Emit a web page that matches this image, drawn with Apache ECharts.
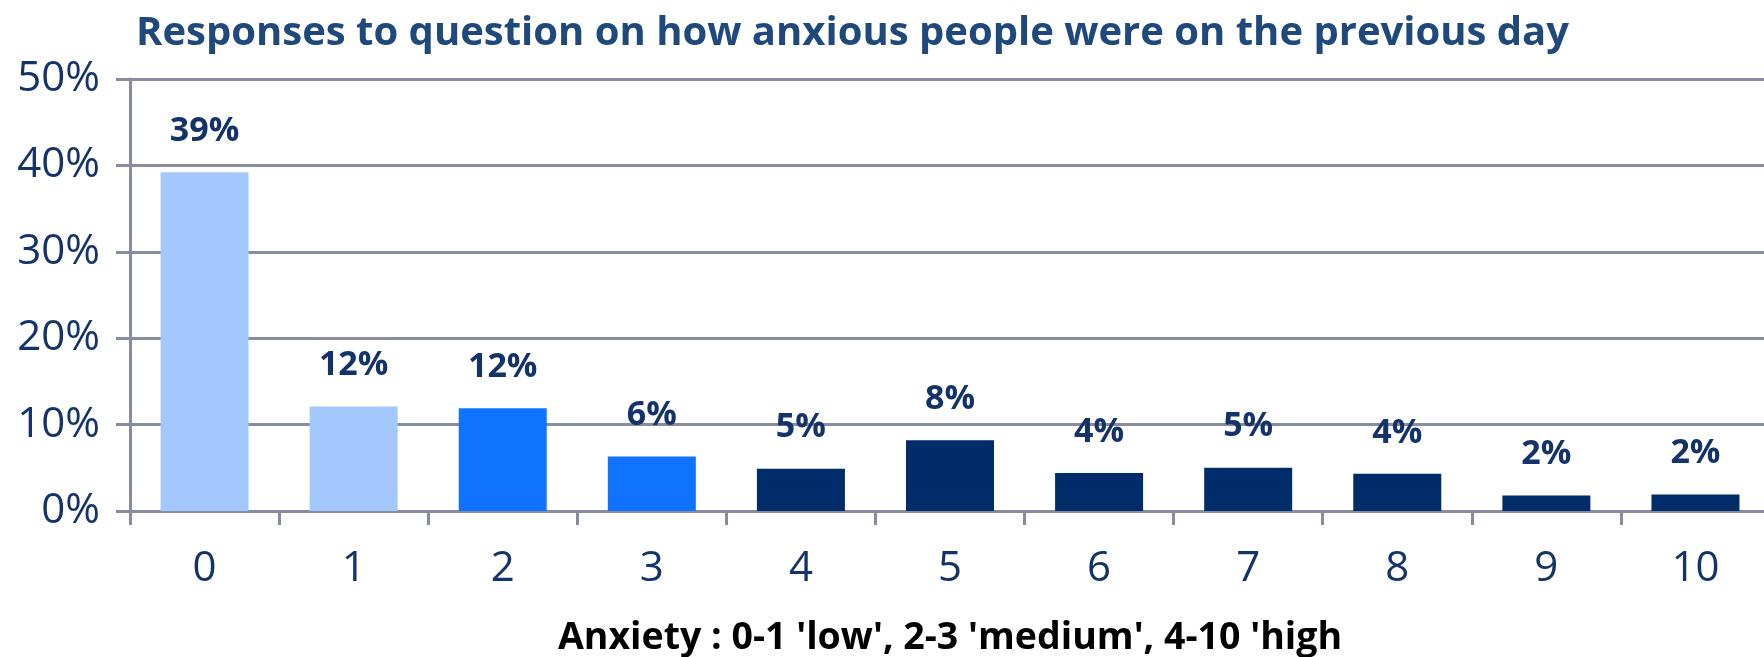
<!DOCTYPE html>
<html>
<head>
<meta charset="utf-8">
<title>Anxiety responses</title>
<script src="https://cdn.jsdelivr.net/npm/echarts@6/dist/echarts.min.js"></script>
<style>
  html, body { margin: 0; padding: 0; background: #fff; }
  #chart { width: 1764px; height: 657px; }
</style>
</head>
<body>
<div id="chart"></div>
<script>
// 焦虑评分 0-10
var categories = ['0', '1', '2', '3', '4', '5', '6', '7', '8', '9', '10'];
var shares = [39.2, 12.1, 11.9, 6.3, 4.9, 8.2, 4.4, 5.0, 4.3, 1.8, 1.9];
var groups = ['low', 'low', 'medium', 'medium', 'high', 'high', 'high', 'high', 'high', 'high', 'high'];
var yTicks = [0, 10, 20, 30, 40, 50];

var groupColor = { low: '#a3c8fd', medium: '#0f73ff', high: '#002c69' };
var navy = '#14336a';
var gridGray = '#878ca0';

var chart = echarts.init(document.getElementById('chart'));

var option = {
  animation: false,
  title: {
    text: 'Responses to question on how anxious people were on the previous day',
    left: 131,
    top: 9,
    textStyle: { fontFamily: 'Open Sans', fontWeight: 'bold', fontSize: 40, color: '#1f497d' }
  },
  grid: { left: 130, top: 79, bottom: 146, width: 1640, outerBoundsMode: 'none' },
  xAxis: {
    type: 'category',
    data: categories,
    name: "Anxiety : 0-1 'low', 2-3 'medium', 4-10 'high",
    nameLocation: 'middle',
    nameGap: 108,
    nameTextStyle: { fontFamily: 'Open Sans', fontWeight: 'bold', fontSize: 37.5, color: '#000' },
    axisLine: { lineStyle: { color: gridGray, width: 3 } },
    axisTick: { show: true, length: 14, lineStyle: { color: gridGray, width: 3 } },
    axisLabel: { margin: 37, fontFamily: 'Open Sans', fontSize: 42, color: navy }
  },
  yAxis: {
    type: 'value',
    min: yTicks[0],
    max: yTicks[yTicks.length - 1],
    interval: 10,
    axisLine: { show: true, lineStyle: { color: gridGray, width: 3 } },
    axisTick: { show: true, length: 14, lineStyle: { color: gridGray, width: 3 } },
    splitLine: { lineStyle: { color: gridGray, width: 3 } },
    axisLabel: {
      margin: 30,
      fontFamily: 'Open Sans',
      fontSize: 42,
      color: navy,
      formatter: function (v) { return v + '%'; }
    }
  },
  series: [{
    type: 'bar',
    barWidth: 88,
    data: shares.map(function (v, i) {
      return { value: v, itemStyle: { color: groupColor[groups[i]] } };
    }),
    label: {
      show: true,
      position: 'top',
      distance: 24,
      fontFamily: 'Open Sans',
      fontWeight: 'bold',
      fontSize: 34,
      color: navy,
      formatter: function (p) { return Math.round(p.value) + '%'; }
    }
  }]
};

chart.setOption(option);
</script>
</body>
</html>
